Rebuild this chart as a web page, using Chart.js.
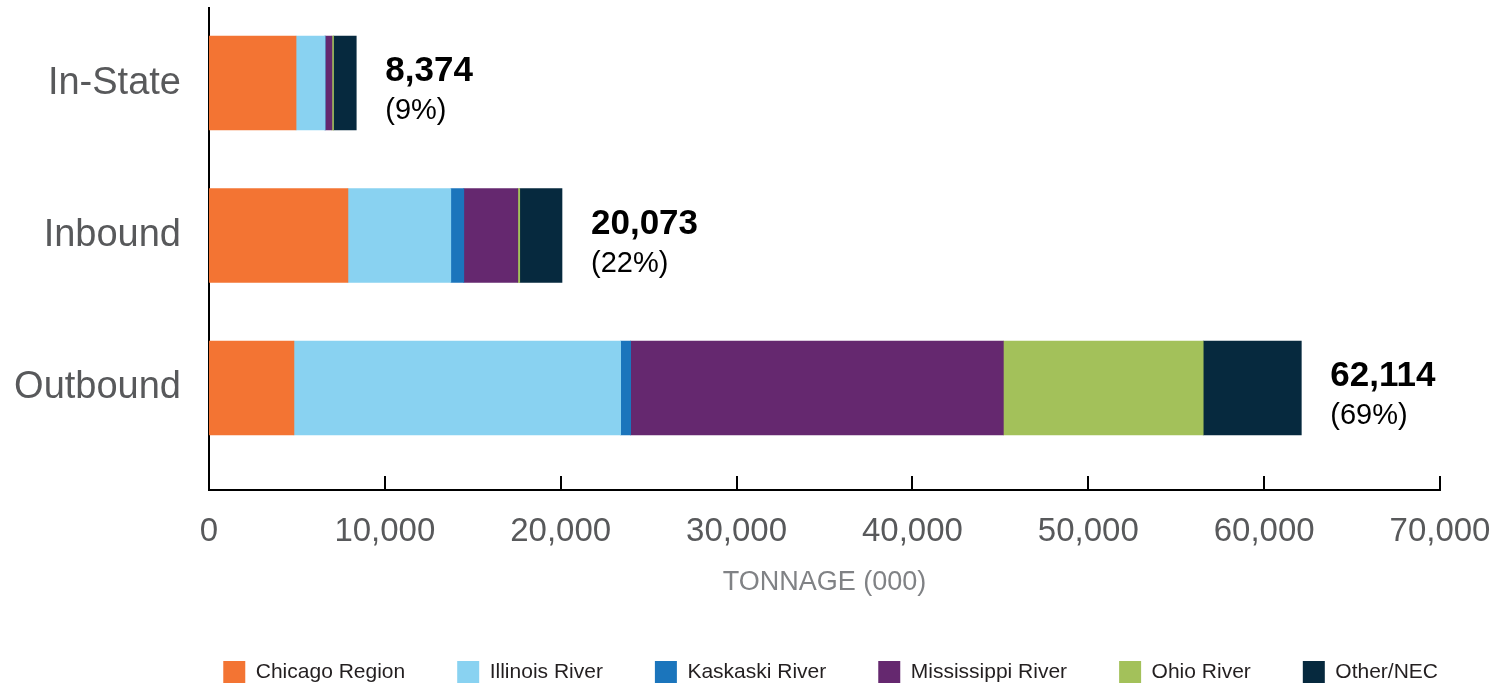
<!DOCTYPE html>
<html>
<head>
<meta charset="utf-8">
<script src="https://cdn.jsdelivr.net/npm/chart.js@4.4.1/dist/chart.umd.min.js"></script>
<style>
  html, body { margin: 0; padding: 0; background: #fff; }
</style>
</head>
<body>
<canvas id="chart" width="1492" height="686"></canvas>
<script>
// categories (top to bottom) and series, thousands of tons
const categories = ['In-State', 'Inbound', 'Outbound']
const chicagoRegion = [4950, 7900, 4830]
const illinoisRiver = [1650, 5850, 18580]
const kaskaskiRiver = [0, 740, 568]
const mississippiRiver = [390, 3070, 21193]
const ohioRiver = [90, 110, 11364]
const otherNec = [1294, 2403, 5579]
const totals = [8374, 20073, 62114]
const shares = ['(9%)', '(22%)', '(69%)']
const xTicks = [0, 10000, 20000, 30000, 40000, 50000, 60000, 70000]

const sans = "'Liberation Sans', Arial, sans-serif"

function series(label, values, color) {
  return {
    label: label,
    data: values.map((v, i) => ({ x: v, y: i })),
    backgroundColor: color,
    borderWidth: 0,
    barThickness: 94,
  }
}

// totals + share printed after each bar
const totalLabels = {
  id: 'totalLabels',
  afterDatasetsDraw(chart) {
    const ctx = chart.ctx
    const x = chart.scales.x
    const y = chart.scales.y
    ctx.save()
    ctx.textAlign = 'left'
    ctx.textBaseline = 'alphabetic'
    ctx.fillStyle = '#000'
    totals.forEach((t, i) => {
      const px = x.getPixelForValue(t) + 29
      const py = y.getPixelForValue(i)
      ctx.font = 'bold 35px ' + sans
      ctx.fillText(t.toLocaleString('en-US'), px, py - 2)
      ctx.font = '29px ' + sans
      ctx.fillText(shares[i], px, py + 36)
    })
    ctx.restore()
  },
}

// short tick marks pointing up from the x axis
const tickMarks = {
  id: 'tickMarks',
  afterDraw(chart) {
    const ctx = chart.ctx
    const x = chart.scales.x
    const bottom = chart.chartArea.bottom
    ctx.save()
    ctx.strokeStyle = '#000'
    ctx.lineWidth = 2
    x.ticks.forEach(t => {
      const px = Math.round(x.getPixelForValue(t.value))
      ctx.beginPath()
      ctx.moveTo(px, bottom - 14)
      ctx.lineTo(px, bottom)
      ctx.stroke()
    })
    ctx.restore()
  },
}

const ctx = document.getElementById('chart').getContext('2d')
const chart = new Chart(ctx, {
  type: 'bar',
  data: {
    datasets: [
      series('Chicago Region', chicagoRegion, '#f37433'),
      series('Illinois River', illinoisRiver, '#89d2f1'),
      series('Kaskaski River', kaskaskiRiver, '#1b75bc'),
      series('Mississippi River', mississippiRiver, '#65286f'),
      series('Ohio River', ohioRiver, '#a3c15a'),
      series('Other/NEC', otherNec, '#06293e'),
    ],
  },
  options: {
    indexAxis: 'y',
    responsive: false,
    animation: false,
    devicePixelRatio: 1,
    layout: { padding: { top: 8, right: 2, bottom: -7, left: 0 } },
    scales: {
      x: {
        type: 'linear',
        stacked: true,
        min: 0,
        max: 70000,
        afterBuildTicks: s => { s.ticks = xTicks.map(v => ({ value: v })) },
        afterFit: s => { s.height = 119; s.paddingLeft = 0; s.paddingRight = 52 },
        grid: { display: false, drawTicks: false },
        border: { display: true, color: '#000', width: 2 },
        ticks: {
          padding: 25,
          color: '#58595b',
          font: { family: sans, size: 33, lineHeight: 1 },
          callback: v => v.toLocaleString('en-US'),
        },
        title: {
          display: true,
          text: 'TONNAGE (000)',
          color: '#808285',
          font: { family: sans, size: 27, lineHeight: 1 },
          padding: { top: 0, bottom: 13 },
        },
      },
      y: {
        type: 'linear',
        stacked: true,
        offset: false,
        reverse: true,
        min: -0.492,
        max: 2.669,
        afterBuildTicks: s => { s.ticks = categories.map((_, i) => ({ value: i })) },
        afterFit: s => { s.width = 209; s.paddingTop = 0; s.paddingBottom = 0 },
        grid: { display: false, drawTicks: false, offset: false },
        border: { display: true, color: '#000', width: 2 },
        ticks: {
          padding: 28,
          color: '#58595b',
          font: { family: sans, size: 38 },
          callback: v => categories[v],
        },
      },
    },
    plugins: {
      legend: {
        position: 'bottom',
        align: 'end',
        labels: {
          boxWidth: 22,
          boxHeight: 22,
          padding: 52,
          color: '#231f20',
          font: { family: sans, size: 21 },
        },
      },
      tooltip: { enabled: false },
    },
  },
  plugins: [totalLabels, tickMarks],
})
</script>
</body>
</html>
